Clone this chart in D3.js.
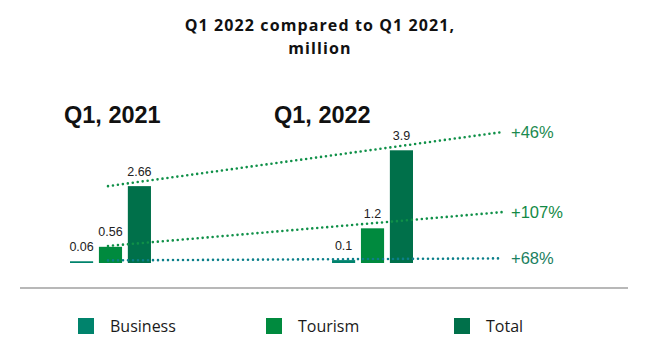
<!DOCTYPE html>
<html>
<head>
<meta charset="utf-8">
<script src="https://cdn.jsdelivr.net/npm/d3@7"></script>
<style>
  body { margin: 0; background: #fff; }
  svg { display: block; }
</style>
</head>
<body>
<svg id="chart" width="656" height="364"></svg>
<script>
const groups = ["Q1, 2021", "Q1, 2022"];
const series = ["Business", "Tourism", "Total"];
const values2021 = [0.06, 0.56, 2.66];
const values2022 = [0.1, 1.2, 3.9];
const valueLabels2021 = ["0.06", "0.56", "2.66"];
const valueLabels2022 = ["0.1", "1.2", "3.9"];
const trendSeries = ["Total", "Tourism", "Business"];
const trendStart = [2.66, 0.59, 0.09];
const trendEnd = [4.53, 1.76, 0.16];
const trendLabels = ["+46%", "+107%", "+68%"];
const colors = { Business: "#00836c", Tourism: "#008a3e", Total: "#00704a" };
const trendColors = { Total: "#0f9048", Tourism: "#0f9048", Business: "#0b7f8a" };
const trendLabelColors = { Total: "#1b8a4f", Tourism: "#138a46", Business: "#1a8060" };

const svg = d3.select("#chart");

const y = d3.scaleLinear().domain([0, 4]).range([263, 147.4]);
const x0 = d3.scaleBand().domain(groups).range([70, 413]).paddingInner(0.691).paddingOuter(0);
const x1 = d3.scaleBand().domain(series).range([0, x0.bandwidth()]).paddingInner(0.2).paddingOuter(0);
const xt = d3.scaleLinear().domain([0, 1]).range([108, 502]);
const xHead = d3.scalePoint().domain(groups).range([64, 274]);

const data = [];
groups.forEach((g, gi) => {
  const vals = gi === 0 ? values2021 : values2022;
  const labs = gi === 0 ? valueLabels2021 : valueLabels2022;
  series.forEach((s, si) => data.push({ group: g, series: s, value: vals[si], label: labs[si] }));
});

// title
const titleLines = ["Q1 2022 compared to Q1 2021,", "million"];
svg.selectAll("text.title").data(titleLines).join("text").attr("class", "title")
  .attr("x", 320).attr("y", (d, i) => 31 + i * 22.5).attr("text-anchor", "middle")
  .attr("font-family", "'Open Sans', sans-serif").attr("font-weight", 700).attr("font-size", 16)
  .attr("letter-spacing", 1.1)
  .attr("fill", "#111").text(d => d);

// group headings
svg.selectAll("text.grp").data(groups).join("text").attr("class", "grp")
  .attr("x", d => xHead(d)).attr("y", 123)
  .attr("font-family", "'Liberation Sans', Arial, sans-serif").attr("font-weight", 700)
  .attr("font-size", 23.5).attr("fill", "#111").text(d => d);

// axis line
svg.append("line").attr("x1", 20).attr("x2", 628).attr("y1", 288).attr("y2", 288)
  .attr("stroke", "#a0a0a0").attr("stroke-width", 1.5);

// bars
svg.selectAll("rect.bar").data(data).join("rect").attr("class", "bar")
  .attr("x", d => x0(d.group) + x1(d.series))
  .attr("width", x1.bandwidth())
  .attr("y", d => y(d.value))
  .attr("height", d => y(0) - y(d.value))
  .attr("fill", d => colors[d.series]);

// value labels
svg.selectAll("text.val").data(data).join("text").attr("class", "val")
  .attr("x", d => x0(d.group) + x1(d.series) + x1.bandwidth() / 2)
  .attr("y", d => y(d.value) - 10.5)
  .attr("text-anchor", "middle")
  .attr("font-family", "'Liberation Sans', Arial, sans-serif").attr("font-size", 12.5)
  .attr("fill", "#222").text(d => d.label);

// trend lines
const trends = trendSeries.map((s, i) => ({ series: s, start: trendStart[i], end: trendEnd[i], label: trendLabels[i] }));
svg.selectAll("line.trend").data(trends).join("line").attr("class", "trend")
  .attr("x1", xt(0)).attr("x2", xt(1))
  .attr("y1", d => y(d.start)).attr("y2", d => y(d.end))
  .attr("stroke", d => trendColors[d.series]).attr("stroke-width", 2.6)
  .attr("stroke-linecap", "round").attr("stroke-dasharray", "0 5");

svg.selectAll("text.trendlab").data(trends).join("text").attr("class", "trendlab")
  .attr("x", xt(1) + 9).attr("y", d => y(d.end) + 5.5)
  .attr("font-family", "'Liberation Sans', Arial, sans-serif").attr("font-size", 16.5)
  .attr("fill", d => trendLabelColors[d.series]).text(d => d.label);

// legend
const legX = d3.scalePoint().domain(series).range([78, 454]);
const leg = svg.selectAll("g.leg").data(series).join("g").attr("class", "leg")
  .attr("transform", d => `translate(${legX(d)},318)`);
leg.append("rect").attr("width", 16).attr("height", 16).attr("fill", d => colors[d]);
leg.append("text").attr("x", 32).attr("y", 14)
  .attr("font-family", "'Open Sans', sans-serif").attr("font-size", 16)
  .attr("fill", "#1a1a1a").text(d => d);
</script>
</body>
</html>
